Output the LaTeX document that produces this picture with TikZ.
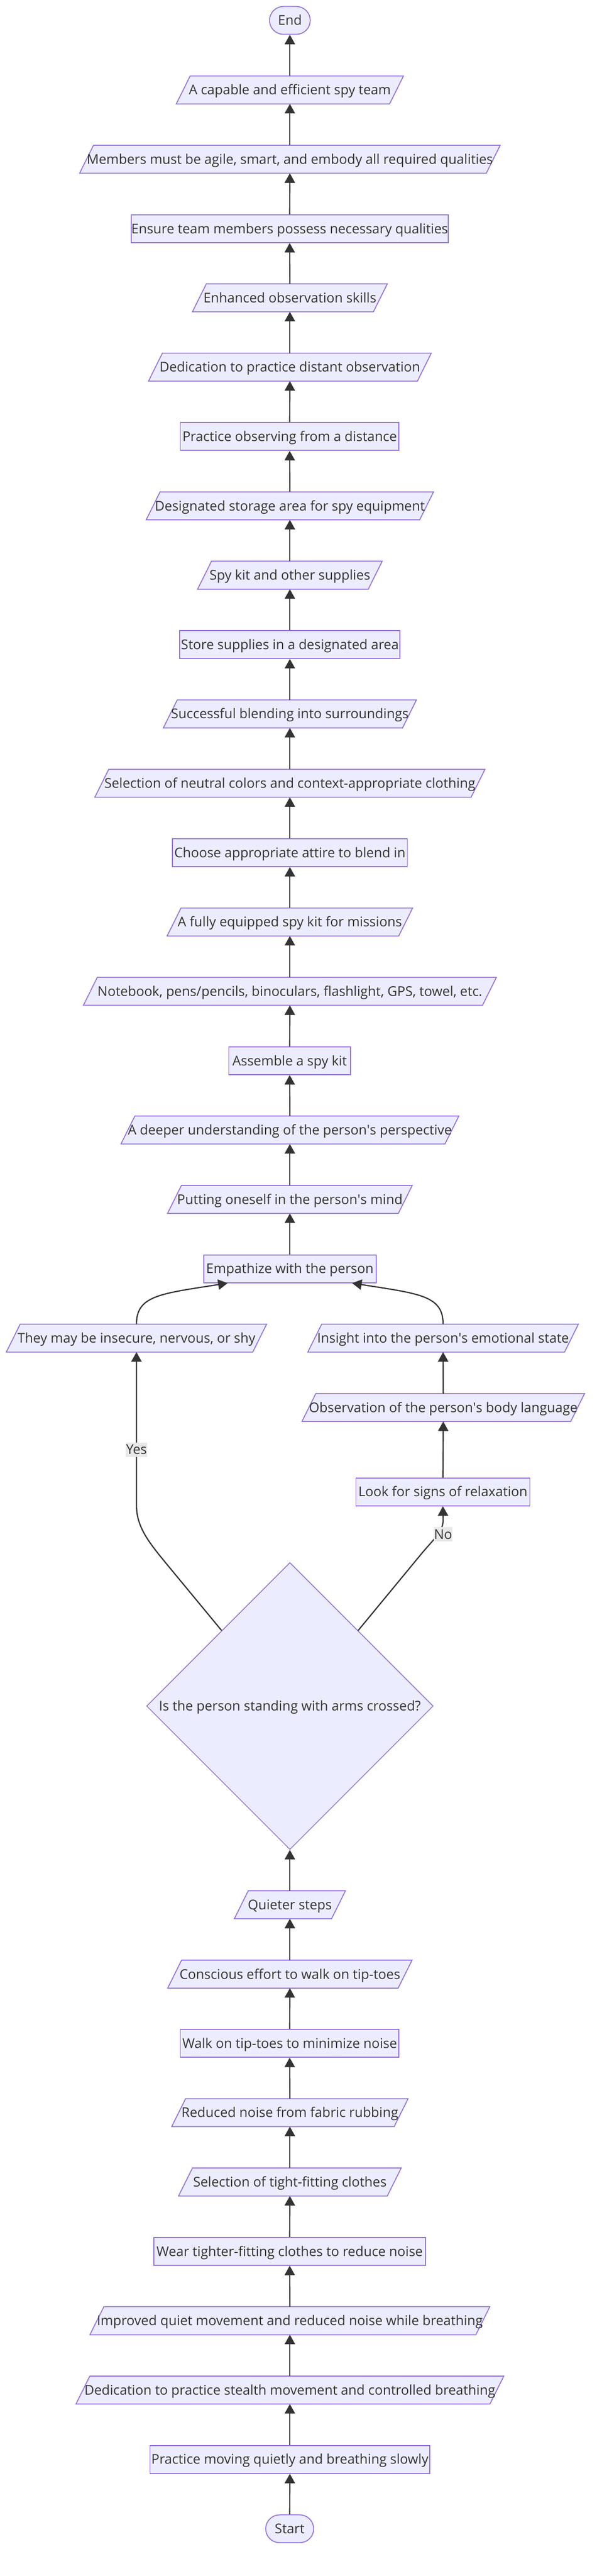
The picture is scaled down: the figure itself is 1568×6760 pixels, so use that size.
\documentclass[tikz,border=0pt]{standalone}
\usepackage{fontspec}
\setmainfont{Open Sans}
\usetikzlibrary{arrows.meta,shapes.geometric,backgrounds,calc}
\definecolor{nfill}{HTML}{ECECFF}
\definecolor{nline}{HTML}{9370DB}
\definecolor{eline}{HTML}{333333}
\definecolor{tcol}{HTML}{333333}
\definecolor{lfill}{HTML}{E8E8E8}
\newcommand{\apos}{\textquotesingle}
\newcommand{\pnode}[5]{\node[paranode, minimum width=#4pt] (#1) at (#2,#3) {#5};}
\newcommand{\rnode}[5]{\node[boxnode, minimum width=#4pt] (#1) at (#2,#3) {#5};}
\begin{document}
\begin{tikzpicture}[x=1pt,y=-1pt,
  every node/.style={font=\fontsize{35.2}{42}\selectfont, text=tcol, text height=25pt, text depth=0pt},
  boxnode/.style={rectangle, draw=nline, fill=nfill, line width=2.4pt, minimum height=73pt, inner sep=0pt},
  paranode/.style={rectangle, minimum height=73pt, inner sep=0pt},
  paraline/.style={draw=nline, fill=nfill, line width=2.4pt},
  stadnode/.style={boxnode, rounded corners=36.5pt},
  decnode/.style={diamond, draw=nline, fill=nfill, line width=2pt, minimum width=753pt, minimum height=753pt, inner sep=0pt},
  flow/.style={draw=eline, line width=3.2pt, -{Triangle[length=25pt,width=27pt]}},
  elabel/.style={fill=lfill, inner xsep=1pt, inner ysep=0pt, minimum height=38pt},
]
\begin{scope}[on background layer]
\fill[white] (0,0) rectangle (1568,6760);
\end{scope}
\useasboundingbox (0,0) rectangle (1568,6760);

% top column
\node[stadnode, minimum width=107pt] (n1) at (761.5,53.5) {End};
\pnode{n2}{761.5}{236}{560}{A capable and efficient spy team}
\pnode{n3}{761.5}{418}{1068}{Members must be agile, smart, and embody all required qualities}
\rnode{n4}{761}{600}{810}{Ensure team members possess necessary qualities}
\pnode{n5}{761.5}{781.5}{475}{Enhanced observation skills}
\pnode{n6}{761.5}{963.5}{706}{Dedication to practice distant observation}
\rnode{n7}{761}{1145.5}{574}{Practice observing from a distance}
\pnode{n8}{761.5}{1327.5}{718}{Designated storage area for spy equipment}
\pnode{n9}{761.5}{1509.5}{448}{Spy kit and other supplies}
\rnode{n10}{761.5}{1691.5}{579}{Store supplies in a designated area}
\pnode{n11}{761.5}{1873.5}{628}{Successful blending into surroundings}
\pnode{n12}{761.5}{2055.5}{988}{Selection of neutral colors and context-appropriate clothing}
\rnode{n13}{761.5}{2237.5}{617}{Choose appropriate attire to blend in}
\pnode{n14}{761.5}{2419.5}{608}{A fully equipped spy kit for missions}
\pnode{n15}{761.5}{2601.5}{1048}{Notebook, pens/pencils, binoculars, flashlight, GPS, towel, etc.}
\rnode{n16}{761}{2783.5}{320}{Assemble a spy kit}
\pnode{n17}{761.5}{2965.5}{847}{A deeper understanding of the person\apos s perspective}
\pnode{n18}{761.5}{3147.5}{606}{Putting oneself in the person\apos s mind}
\rnode{n19}{761.5}{3329.5}{453}{Empathize with the person}
% branches
\pnode{n20}{358.5}{3511.5}{647}{They may be insecure, nervous, or shy}
\pnode{n21}{1164}{3511.5}{674}{Insight into the person\apos s emotional state}
\pnode{n22}{1164.5}{3693.5}{705}{Observation of the person\apos s body language}
\rnode{n23}{1163.5}{3915}{457}{Look for signs of relaxation}
\node[decnode] (d) at (761.5,4477) {Is the person standing with arms crossed?};
% bottom column
\pnode{n24}{761.5}{4998.5}{255}{Quieter steps}
\pnode{n25}{761.5}{5180.5}{605}{Conscious effort to walk on tip-toes}
\rnode{n26}{761}{5362}{574}{Walk on tip-toes to minimize noise}
\pnode{n27}{761.5}{5544}{584}{Reduced noise from fabric rubbing}
\pnode{n28}{761.5}{5726}{548}{Selection of tight-fitting clothes}
\rnode{n29}{761}{5908}{714}{Wear tighter-fitting clothes to reduce noise}
\pnode{n30}{761.5}{6090}{1009}{Improved quiet movement and reduced noise while breathing}
\pnode{n31}{761.5}{6272}{1087}{Dedication to practice stealth movement and controlled breathing}
\rnode{n32}{761.5}{6454}{735}{Practice moving quietly and breathing slowly}
\node[stadnode, minimum width=126pt] (n33) at (761,6636) {Start};

% parallelogram outlines
\begin{scope}[on background layer]
\foreach \n in {n2,n3,n5,n6,n8,n9,n11,n12,n14,n15,n17,n18,n20,n21,n22,n24,n25,n27,n28,n30,n31}
  \draw[paraline] ([xshift=-18.25pt]\n.south west) -- ([xshift=-18.25pt]\n.south east)
     -- ([xshift=18.25pt]\n.north east) -- ([xshift=18.25pt]\n.north west) -- cycle;
\end{scope}

% straight connectors
\foreach \a/\b in {n2/n1,n3/n2,n4/n3,n5/n4,n6/n5,n7/n6,n8/n7,n9/n8,n10/n9,n11/n10,n12/n11,n13/n12,n14/n13,n15/n14,n16/n15,n17/n16,n18/n17,n19/n18,n22/n21,n23/n22,n24/d,n25/n24,n26/n25,n27/n26,n28/n27,n29/n28,n30/n29,n31/n30,n32/n31,n33/n32}
  \draw[flow] (\a.north) -- (\b.south);

% curved connectors into Empathize
\draw[flow] (n20.north) .. controls (358.5,3400) and (420,3395) .. ($(n19.south)+(-163.5,0)$);
\draw[flow] (n21.north) .. controls (1164,3400) and (1103,3395) .. ($(n19.south)+(163.5,0)$);

% decision branches
\draw[flow] ($(d.north)!0.475!(d.west)$) -- (445,4113) .. controls (394,4051) and (358.5,4010) .. (358.5,3950) -- (n20.south);
\draw[flow] ($(d.north)!0.475!(d.east)$) -- (1105,4080) .. controls (1137,4041) and (1164,4020) .. (1164,3990) -- (n23.south);

\node[elabel] (ly) at (358.5,3804) {Yes};
\node[elabel] (ln) at (1164,4026) {No};
\end{tikzpicture}
\end{document}
